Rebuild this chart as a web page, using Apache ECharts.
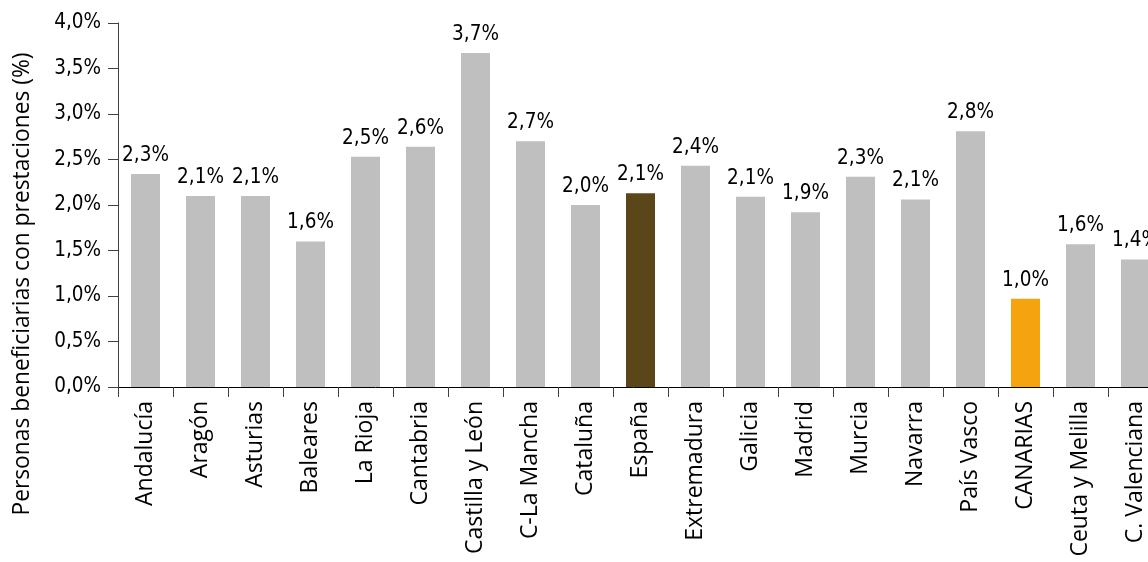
<!DOCTYPE html>
<html><head><meta charset="utf-8">
<script src="https://cdn.jsdelivr.net/npm/echarts@6/dist/echarts.min.js"></script>
<style>html,body{margin:0;padding:0;background:#fff}#c{width:1148px;height:562px}</style>
</head><body><div id="c"></div>
<script>
const categories = ["Andalucía","Aragón","Asturias","Baleares","La Rioja","Cantabria","Castilla y León","C-La Mancha","Cataluña","España","Extremadura","Galicia","Madrid","Murcia","Navarra","País Vasco","CANARIAS","Ceuta y Melilla","C. Valenciana"];
const values = [2.34,2.10,2.10,1.60,2.53,2.64,3.67,2.70,2.00,2.13,2.43,2.09,1.92,2.31,2.06,2.81,0.97,1.57,1.40];
const highlight = {"España":"#5b4619","CANARIAS":"#f5a30f"};
const baseColor = "#bfbfbf";
const yTicks = {min:0,max:4,interval:0.5};
const yTitle = "Personas beneficiarias con prestaciones (%)";
const fmt = v => v.toFixed(1).replace('.', ',') + '%';
const numFont = "'DejaVu Sans Condensed', 'DejaVu Sans', sans-serif";

const chart = echarts.init(document.getElementById('c'));
chart.setOption({
  animation:false,
  grid:{left:118,width:1045,top:23,bottom:175,containLabel:false,outerBoundsMode:'none'},
  graphic:[{type:'text',x:23,y:284,rotation:Math.PI/2,
    style:{text:yTitle,fontFamily:'Open Sans',fontSize:22.8,fill:'#000',textAlign:'center',textVerticalAlign:'middle'}}],
  xAxis:{type:'category',data:categories,
    axisLine:{lineStyle:{color:'#000',width:1}},
    axisTick:{show:true,length:10,lineStyle:{color:'#404040'}},
    axisLabel:{rotate:90,interval:0,color:'#000',fontFamily:'Open Sans',fontSize:23,margin:14}},
  yAxis:{type:'value',min:yTicks.min,max:yTicks.max,interval:yTicks.interval,
    splitLine:{show:false},
    axisLine:{show:true,lineStyle:{color:'#404040'}},
    axisTick:{show:true,length:10,lineStyle:{color:'#404040'}},
    axisLabel:{formatter:fmt,color:'#000',fontFamily:numFont,fontSize:20.5,margin:17}},
  series:[{type:'bar',barWidth:29,
    data:values.map((v,i)=>({value:v,itemStyle:{color:highlight[categories[i]]||baseColor}})),
    label:{show:true,position:'top',distance:8,formatter:p=>fmt(p.value),color:'#000',fontFamily:numFont,fontSize:20.5}}]
});
</script></body></html>
